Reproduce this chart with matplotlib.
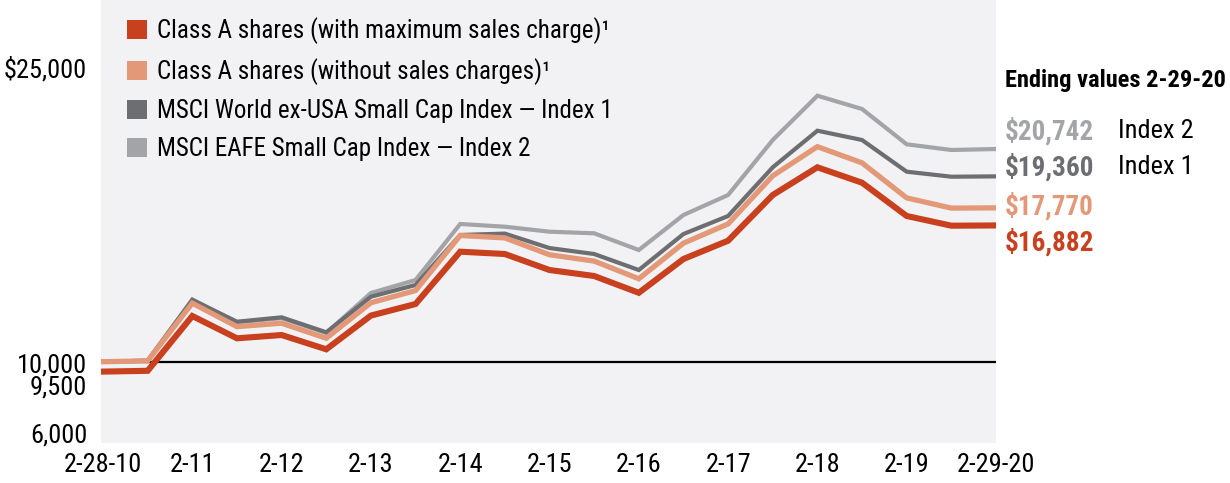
import numpy as np
import matplotlib.pyplot as plt
from matplotlib.patches import Patch
from matplotlib.transforms import ScaledTranslation

plt.rcParams['font.family'] = ['Roboto Condensed', 'Liberation Sans', 'DejaVu Sans']

# semi-annual points, 2-28-10 .. 2-29-20
class_a_max = [9500, 9540, 12308, 11182, 11348, 10626, 12330, 12914, 15556, 15439, 14631,
               14328, 13480, 15187, 16111, 18419, 19818, 19040, 17359, 16869, 16882]
class_a_nolo = [10000, 10042, 12956, 11771, 11945, 11185, 12979, 13594, 16375, 16252, 15401,
                15082, 14189, 15986, 16959, 19388, 20861, 20042, 18273, 17757, 17770]
index1 = [10000, 10050, 13116, 12020, 12242, 11485, 13283, 13874, 16400, 16470, 15740,
          15439, 14631, 16449, 17359, 19818, 21667, 21197, 19596, 19343, 19360]
index2 = [10000, 10050, 13150, 11990, 12200, 11450, 13470, 14126, 16955, 16818, 16566,
          16485, 15641, 17409, 18419, 21197, 23434, 22763, 20980, 20692, 20742]

x_labels = ['2-28-10', '2-11', '2-12', '2-13', '2-14', '2-15', '2-16', '2-17', '2-18', '2-19', '2-29-20']
y_ticks = [6000, 9500, 10000, 25000]
y_labels = ['6,000', '9,500', '10,000', '$25,000']
y_offsets = [6, -10, -1, -2]  # points, to keep the close labels apart

names = ['Class A shares (with maximum sales charge)\u00b9',
         'Class A shares (without sales charges)\u00b9',
         'MSCI World ex-USA Small Cap Index \u2014 Index 1',
         'MSCI EAFE Small Cap Index \u2014 Index 2']
colors = ['#c8401e', '#e39877', '#6d6e71', '#a3a4a7']

ending = ['$16,882', '$17,770', '$19,360', '$20,742']

fig = plt.figure(figsize=(12.3, 4.83), dpi=100)
ax = fig.add_axes([101 / 1230, 40 / 483, 895 / 1230, 443 / 483])
ax.set_facecolor('#f2f2f4')

x = np.arange(len(index1))
ax.axhline(10000, color='black', lw=1.6, zorder=1)
ax.plot(x, index2, color=colors[3], lw=3.0, zorder=2, solid_joinstyle='miter')
ax.plot(x, index1, color=colors[2], lw=3.0, zorder=3, solid_joinstyle='miter')
ax.plot(x, class_a_nolo, color=colors[1], lw=3.8, zorder=4, solid_joinstyle='miter')
ax.plot(x, class_a_max, color=colors[0], lw=4.4, zorder=5, solid_joinstyle='miter')

ax.set_xlim(-0.045, 20)
ax.set_ylim(5894, 28268)
for s in ax.spines.values():
    s.set_visible(False)
ax.tick_params(length=0, labelsize=19)
ax.set_xticks(x[::2])
ax.set_xticklabels(x_labels)
ax.tick_params(axis='x', pad=7)
ax.tick_params(axis='y', pad=10)
ax.set_yticks(y_ticks)
ax.set_yticklabels(y_labels)
for lab, dy in zip(ax.get_yticklabels(), y_offsets):
    lab.set_transform(lab.get_transform() + ScaledTranslation(0, dy / 72, fig.dpi_scale_trans))

handles = [Patch(facecolor=c, edgecolor='none') for c in colors]
ax.legend(handles, names, loc='upper left', bbox_to_anchor=(0.01, 1.0), frameon=False,
          fontsize=18, handlelength=0.8, handleheight=0.8, handletextpad=0.4,
          labelspacing=0.56, borderaxespad=0.3)

# ending values panel
fig.text(1005 / 1230, 1 - 80 / 483, 'Ending values 2-29-20', fontsize=17.6, fontweight='bold',
         va='center', ha='left')
end_y = [242, 206, 167, 131]
for val, c, yy in zip(ending, colors, end_y):
    fig.text(1005 / 1230, 1 - yy / 483, val, fontsize=19.5, fontweight='bold', color=c,
             va='center', ha='left')
fig.text(1118 / 1230, 1 - 131 / 483, 'Index 2', fontsize=19, va='center', ha='left')
fig.text(1118 / 1230, 1 - 167 / 483, 'Index 1', fontsize=19, va='center', ha='left')

fig.savefig('out.png', dpi=100)
